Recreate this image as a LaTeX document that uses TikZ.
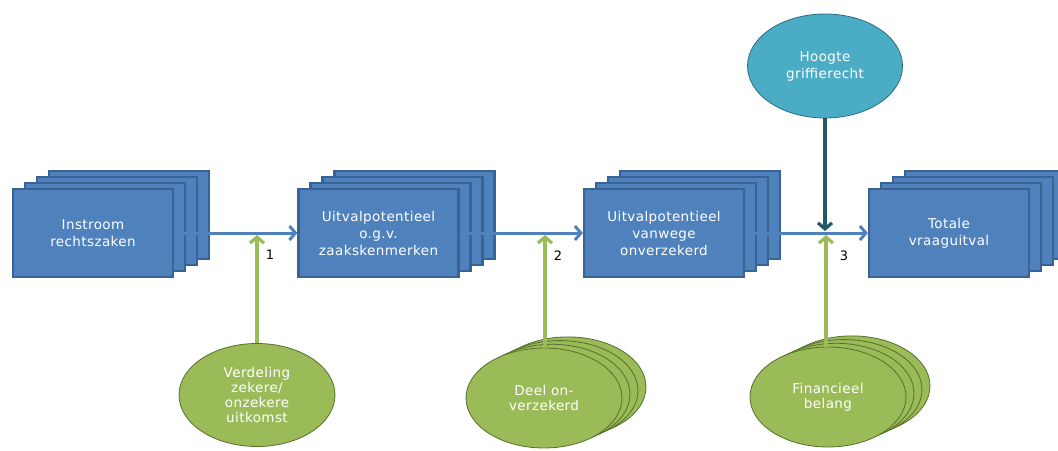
\documentclass[tikz,border=0pt]{standalone}
\usepackage{fontspec}
\setmainfont{DejaVu Sans}
\newfontfamily\boxfont[LetterSpace=3]{DejaVu Sans}
\usetikzlibrary{arrows.meta,shapes.geometric}
\definecolor{boxfill}{HTML}{4F81BD}
\definecolor{boxline}{HTML}{3A6395}
\definecolor{flowblue}{HTML}{4F81BD}
\definecolor{grfill}{HTML}{9BBB59}
\definecolor{grline}{HTML}{566F2C}
\definecolor{tlfill}{HTML}{4BACC6}
\definecolor{tlline}{HTML}{2D6C7E}
\definecolor{tlarrow}{HTML}{215967}
\tikzset{
  stackbox/.style={rectangle, fill=boxfill, draw=boxline, line width=2.2pt,
    minimum width=160pt, minimum height=88pt, inner sep=0pt, text=white,
    font=\boxfont\fontsize{13.5}{17}\selectfont, align=center},
  grell/.style={ellipse, fill=grfill, draw=grline, line width=0.8pt,
    minimum width=156pt, minimum height=103pt, inner sep=0pt, text=white,
    font=\boxfont\fontsize{13.5}{15}\selectfont, align=center},
  tlell/.style={ellipse, fill=tlfill, draw=tlline, line width=0.8pt,
    minimum width=155pt, minimum height=104pt, inner sep=0pt, text=white,
    font=\boxfont\fontsize{13.5}{17}\selectfont, align=center},
  flow/.style={draw=flowblue, line width=3pt,
    -{Straight Barb[length=6pt,width=14pt]}},
  grarrow/.style={draw=grfill, line width=3.2pt,
    -{Straight Barb[length=6pt,width=14pt]}},
  tlarr/.style={draw=tlarrow, line width=3.2pt,
    -{Straight Barb[length=6pt,width=14pt]}},
  numlabel/.style={font=\fontsize{13}{15}\selectfont, text=black, inner sep=0pt}
}
\begin{document}
\begin{tikzpicture}[x=1pt,y=-1pt]
\useasboundingbox (0,0) rectangle (1058,450);
\clip (0,0) rectangle (1058,450);

% box stacks
\foreach \cx/\nm in {93/a, 378.5/b, 664/c, 949/d}{
  \foreach \k in {3,2,1}{
    \node[stackbox] (back\nm\k) at (\cx+12*\k, 233-6*\k) {};
  }
}
\node[stackbox] (b1) at (93,233) {Instroom\\rechtszaken};
\node[stackbox] (b2) at (378.5,233) {Uitvalpotentieel\\o.g.v.\\zaakskenmerken};
\node[stackbox] (b3) at (664,233) {Uitvalpotentieel\\vanwege\\onverzekerd};
\node[stackbox] (b4) at (949,233) {Totale\\vraaguitval};

% ellipses
\node[grell] (e1) at (257,395) {Verdeling\\zekere/\\onzekere\\uitkomst};
\foreach \k in {3,2,1}{
  \node[grell, minimum height=100pt] (e2back\k) at (544+8*\k, 398-3.7*\k) {};
}
\node[grell, minimum height=100pt] (e2) at (544,398) {Deel on-\\verzekerd};
\foreach \k in {3,2,1}{
  \node[grell, minimum height=100pt] (e3back\k) at (828+8*\k, 397-3.7*\k) {};
}
\node[grell, minimum height=100pt] (e3) at (828,397) {Financieel\\belang};
\node[tlell] (t) at (825,66) {Hoogte\\griffierecht};

% junction points
\coordinate (j1) at (257,235);
\coordinate (j2) at (545,235);
\coordinate (j3) at (826,235);
\coordinate (jt) at (825,231);

% flow arrows
\draw[flow] (b1.east) -- (b2.west);
\draw[flow] (b2.east) -- (b3.west);
\draw[flow] (b3.east) -- (b4.west);

% influence arrows
\draw[grarrow] (e1.north) -- (j1);
\draw[grarrow] (e2.north -| j2) -- (j2);
\draw[grarrow] (e3.north -| j3) -- (j3);
\draw[tlarr] (t.south) -- (jt);

% labels
\node[numlabel] (n1) at (270,255) {1};
\node[numlabel] (n2) at (558,256) {2};
\node[numlabel] (n3) at (844,256) {3};
\end{tikzpicture}
\end{document}
